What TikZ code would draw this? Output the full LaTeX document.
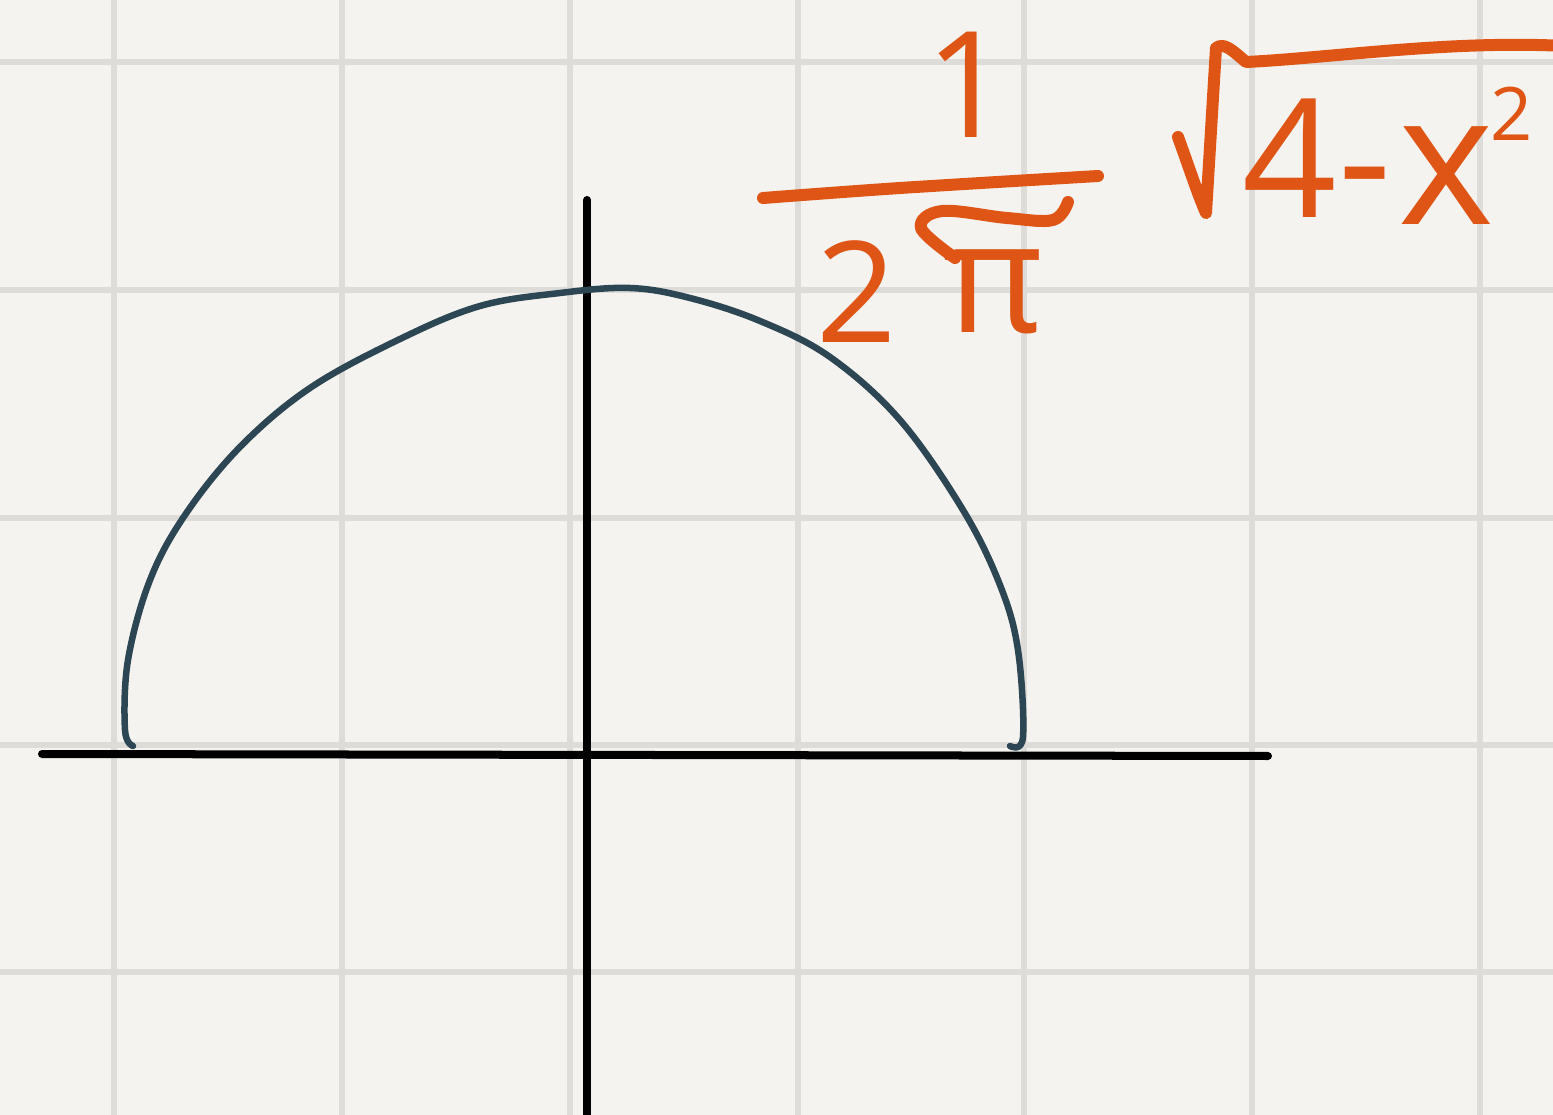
\documentclass[tikz,border=0pt]{standalone}
\usepackage{fontspec}
\setmainfont{Open Sans}
\definecolor{bg}{HTML}{F4F3EF}
\definecolor{gridc}{HTML}{DDDCD9}
\definecolor{curvec}{HTML}{2D4654}
\definecolor{ink}{HTML}{DF5516}
\begin{document}
\begin{tikzpicture}[x=0.01cm,y=-0.01cm,
  gridline/.style={draw=gridc,line width=0.06cm},
  axis/.style={draw=black,line width=0.08cm,line cap=round},
  curve/.style={draw=curvec,line width=0.065cm,line cap=round,line join=round},
  pen/.style={draw=ink,line width=0.12cm,line cap=round,line join=round},
  hand/.style={text=ink,inner sep=0pt,anchor=base}]
\fill[bg] (0,0) rectangle (1553,1115);
\useasboundingbox (0,0) rectangle (1553,1115);
\clip (0,0) rectangle (1553,1115);
% grid
\foreach \x in {114,342,570,798,1024,1252,1480} \draw[gridline] (\x,0) -- (\x,1115);
\foreach \y in {62,290,518,745,972} \draw[gridline] (0,\y) -- (1553,\y);
% axes
\coordinate (xl) at (42,754);
\coordinate (xr) at (1268,756);
\coordinate (yt) at (587,200);
\coordinate (yb) at (587,1125);
\draw[axis] (xl) -- (xr);
\draw[axis] (yt) -- (yb);
% semicircle
\draw[curve] plot[smooth,tension=0.6] coordinates {
 (133,746) (125,730) (128,660) (150,580) (185,515) (240,447) (310,388)
 (400,339) (480,306) (560,293) (630,288) (690,298) (760,321) (830,357)
 (900,420) (963,510) (1000,585) (1018,650) (1023,737) (1010,746)};
% fraction bar
\draw[pen] plot[smooth] coordinates {(763,198) (900,188) (1098,176)};
\node[hand,font=\fontsize{42pt}{42pt}\selectfont] (one) at (968,137) {1};
\node[hand,font=\fontsize{40pt}{40pt}\selectfont] (two) at (857,343) {2};
\node[hand,font=\fontsize{44pt}{44pt}\selectfont] (pi) at (994,332) {π};
% small radical in denominator
\draw[pen] plot[smooth,tension=0.6] coordinates {(955,258) (921,228) (942,211) (1007,218) (1053,220) (1068,202)};
% big radical
\draw[pen] (1178,137) .. controls (1190,170) and (1198,195) .. (1206,213)
  -- (1216,48) .. controls (1224,42) and (1232,50) .. (1246,62)
  .. controls (1330,58) and (1450,40) .. (1565,46);
\node[hand,font=\fontsize{47pt}{47pt}\selectfont] (four) at (1290,217) {4};
\node[hand,font=\fontsize{47pt}{47pt}\selectfont] (minus) at (1365,217) {-};
\node[hand,font=\fontsize{52pt}{52pt}\selectfont] (xx) at (1446,225) {x};
\node[hand,font=\fontsize{21pt}{21pt}\selectfont] (sq) at (1512,140) {2};
\end{tikzpicture}
\end{document}
